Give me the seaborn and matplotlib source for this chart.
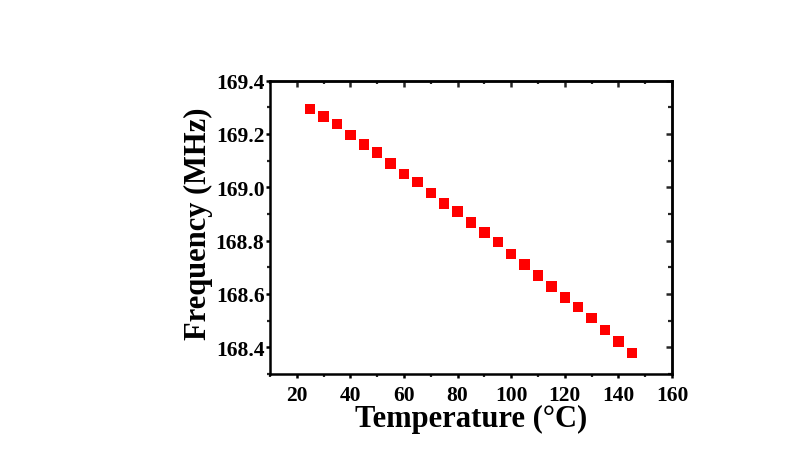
import matplotlib
matplotlib.use("Agg")
import matplotlib.pyplot as plt
import seaborn as sns
import pandas as pd
from matplotlib.ticker import MultipleLocator, NullFormatter

temperature = [25, 30, 35, 40, 45, 50, 55, 60, 65, 70, 75, 80, 85, 90, 95,
               100, 105, 110, 115, 120, 125, 130, 135, 140, 145]
frequency = [169.294, 169.266, 169.238, 169.196, 169.161, 169.130, 169.090,
             169.050, 169.020, 168.979, 168.938, 168.908, 168.868, 168.831,
             168.794, 168.749, 168.710, 168.668, 168.627, 168.586, 168.551,
             168.510, 168.464, 168.421, 168.379]
x_ticks = [20, 40, 60, 80, 100, 120, 140, 160]
y_ticks = [168.4, 168.6, 168.8, 169.0, 169.2, 169.4]
y_tick_labels = ["168.4", "168.6", "168.8", "169.0", "169.2", "169.4"]

df = pd.DataFrame({"T": temperature, "F": frequency})

sns.set_style("ticks")
plt.rcParams['font.family'] = ['Liberation Serif', 'DejaVu Serif']
plt.rcParams['font.weight'] = 'bold'
plt.rcParams['text.color'] = 'black'
plt.rcParams['axes.labelcolor'] = 'black'

fig = plt.figure(figsize=(8.05, 4.60), dpi=100)
ax = fig.add_axes([0.3354, 0.185, 0.4994, 0.6376])

sns.scatterplot(data=df, x="T", y="F", marker="s", s=58, color="#ff0000",
                edgecolor="none", linewidth=0, ax=ax, legend=False)

ax.set_xlim(10, 160)
ax.set_ylim(168.3, 169.4)
ax.set_xticks(x_ticks)
ax.set_yticks(y_ticks)
ax.set_yticklabels(y_tick_labels)
ax.xaxis.set_minor_locator(MultipleLocator(10))
ax.yaxis.set_minor_locator(MultipleLocator(0.1))

for sp in ax.spines.values():
    sp.set_visible(True)
    sp.set_linewidth(1.8)
    sp.set_color("black")

ax.tick_params(which="major", direction="out", length=3, width=1.8,
               labelsize=15.5, colors="black")
ax.tick_params(axis="x", which="major", pad=5)
ax.tick_params(axis="y", which="major", pad=1)
ax.tick_params(which="minor", direction="out", length=2.2, width=1.6)
for lbl in ax.get_xticklabels() + ax.get_yticklabels():
    lbl.set_fontweight("bold")

# top and right axes with inward ticks
top = ax.secondary_xaxis("top")
top.set_xticks(x_ticks)
top.xaxis.set_minor_locator(MultipleLocator(10))
top.xaxis.set_major_formatter(NullFormatter())
top.tick_params(which="major", direction="in", length=4, width=1.8)
top.tick_params(which="minor", direction="in", length=2.5, width=1.6)
top.spines["top"].set_linewidth(1.8)

right = ax.secondary_yaxis("right")
right.set_yticks(y_ticks)
right.yaxis.set_minor_locator(MultipleLocator(0.1))
right.yaxis.set_major_formatter(NullFormatter())
right.tick_params(which="major", direction="in", length=4.5, width=1.8)
right.tick_params(which="minor", direction="in", length=3, width=1.6)
right.spines["right"].set_linewidth(1.8)

ax.set_xlabel("Temperature (°C)", fontsize=22, fontweight="bold",
              labelpad=-1, color="black")
ax.set_ylabel("Frequency (MHz)", fontsize=22, fontweight="bold",
              labelpad=2, color="black")
ax.yaxis.label.set_y(0.517)

fig.savefig("out.png", dpi=100, facecolor="white")
